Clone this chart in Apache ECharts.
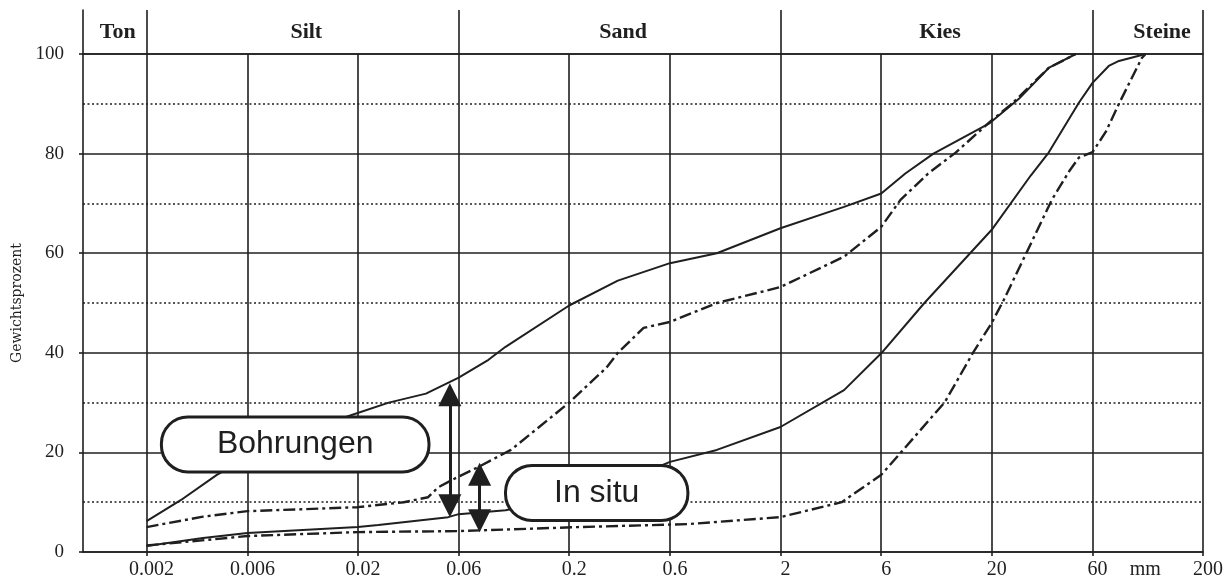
<!DOCTYPE html>
<html><head><meta charset="utf-8">
<script src="https://cdn.jsdelivr.net/npm/echarts@6/dist/echarts.min.js"></script>
<style>html,body{margin:0;padding:0;background:#fff}#c{width:1232px;height:585px}</style>
</head><body><div id="c"></div>
<script>
// ---- data ----
const xTicks = [0.002, 0.006, 0.02, 0.06, 0.2, 0.6, 2, 6, 20, 60, 200];
const xTickLabels = ['0.002', '0.006', '0.02', '0.06', '0.2', '0.6', '2', '6', '20', '60', '200'];
const unitLabel = 'mm';
const unitLabelAt = 101;
const fractions = ['Ton', 'Silt', 'Sand', 'Kies', 'Steine'];
const fractionBounds = [0.002, 0.06, 2, 60, 200];
const fractionLabelAt = [0.00146, 0.0114, 0.36, 11.4, 128];

const bohrFine = [[0.002,6.2],[0.0029,10.4],[0.0043,15.5],[0.006,19],[0.01,23.5],[0.0187,27.5],[0.028,30],[0.042,31.8],[0.06,35],[0.083,38.6],[0.1,41.2],[0.2,49.5],[0.34,54.5],[0.6,58],[1,60],[2,65],[4,69.3],[6,72],[7.8,76],[10.6,80],[19.4,86],[26.9,91],[37.2,97.2],[50,100]];
const bohrCoarse = [[0.002,1.2],[0.0037,2.8],[0.006,3.8],[0.02,5.0],[0.025,5.4],[0.0535,7.0],[0.06,7.6],[0.1,8.4],[0.2,11],[0.4,15],[0.6,18.1],[1,20.5],[2,25.1],[4,32.5],[6,39.9],[9.6,50],[20,64.7],[30.6,75.6],[37.2,80.2],[51.7,90.2],[60,94.2],[71.6,97.6],[80,98.6],[107,100]];
const insituFine = [[0.002,5.0],[0.0037,7.1],[0.006,8.2],[0.0112,8.6],[0.02,9.0],[0.033,10],[0.043,11],[0.048,13],[0.056,14.5],[0.0745,17.1],[0.106,20.5],[0.2,30],[0.3,37],[0.34,40],[0.45,45],[0.6,46.2],[1,50],[2,53.2],[4,59.3],[6,65.3],[7.4,70.7],[10,76],[13.5,80.2],[19.4,86.2],[24.9,90],[37.2,97.2],[50,100]];
const insituCoarse = [[0.002,1.3],[0.006,3.2],[0.02,4.0],[0.06,4.2],[0.22,5.0],[0.73,5.6],[2,7.0],[3.9,10],[6,15.5],[7.4,19.9],[12,30.1],[16.3,40],[20,46],[22.8,50.6],[29.6,60.6],[38.5,70.7],[46.6,76.5],[51.7,79.2],[60,80.3],[69.4,84.4],[80,90],[102.7,99.2],[107,100]];

// annotations (data coordinates)
const callouts = [
  {name: 'Bohrungen', at: [0.0101, 21.6], padH: 54},
  {name: 'In situ', at: [0.27, 11.85], padH: 47}
];
const rangeArrows = [
  {x: 0.0545, from: 31.6, to: 9.3},
  {x: 0.0754, from: 15.6, to: 6.3}
];

// ---- chart ----
const INK = '#1f1f1f';
const SERIF = '"Liberation Serif","Times New Roman",serif';
const SANS = '"Liberation Sans",Arial,sans-serif';

function tickLabel(v) {
  if (Math.abs(v - unitLabelAt) < 1e-6 * unitLabelAt) return unitLabel;
  for (let i = 0; i < xTicks.length; i++) {
    if (Math.abs(v - xTicks[i]) < 1e-6 * xTicks[i]) return xTickLabels[i];
  }
  return '';
}

const chart = echarts.init(document.getElementById('c'), null, {renderer: 'canvas'});
const gridLine = {color: INK, width: 1.6};
const solidCurve = {color: INK, width: 2};
const dashDot = {color: INK, width: 2.4, type: [12, 4, 3, 4]};

chart.setOption({
  animation: false,
  backgroundColor: '#fff',
  grid: [
    {left: 83, right: 29, top: 54, bottom: 33},
    {left: 83, right: 29, top: 10, height: 44}
  ],
  xAxis: [
    {
      type: 'log', gridIndex: 0, min: 0.001, max: 200,
      axisLine: {show: true, lineStyle: gridLine},
      axisTick: {show: true, customValues: xTicks, length: 4, lineStyle: gridLine},
      axisLabel: {customValues: xTicks.concat([unitLabelAt]), formatter: tickLabel,
        fontFamily: SERIF, fontSize: 20, color: INK, margin: 8, padding: [0, 0, 0, 10]},
      splitLine: {show: false}, minorTick: {show: false}, minorSplitLine: {show: false}
    },
    {
      type: 'log', gridIndex: 1, min: 0.001, max: 200, position: 'top',
      axisLine: {show: true, lineStyle: gridLine},
      axisTick: {show: false}, axisLabel: {show: false}, splitLine: {show: false}
    }
  ],
  yAxis: [
    {
      type: 'value', gridIndex: 0, min: 0, max: 100, interval: 20,
      axisLine: {show: true, lineStyle: gridLine},
      axisTick: {show: true, length: 4, lineStyle: gridLine},
      axisLabel: {fontFamily: SERIF, fontSize: 19, color: INK, margin: 19},
      splitLine: {show: true, lineStyle: gridLine},
      minorTick: {show: false, splitNumber: 2},
      minorSplitLine: {show: true, lineStyle: {color: INK, width: 1.6, type: [2, 2.5]}},
      name: 'Gewichtsprozent', nameLocation: 'middle', nameGap: 58,
      nameTextStyle: {fontFamily: '"DejaVu Serif",serif', fontSize: 14, color: INK}
    },
    {
      type: 'value', gridIndex: 1, min: 0, max: 1,
      axisLine: {show: true, lineStyle: gridLine},
      axisTick: {show: false}, axisLabel: {show: false}, splitLine: {show: false}
    }
  ],
  series: [
    {
      name: 'grid-verticals', type: 'line', xAxisIndex: 0, yAxisIndex: 0, data: [],
      markLine: {silent: true, symbol: 'none', z: 1, precision: 10, label: {show: false},
        lineStyle: {color: INK, width: 1.6, type: 'solid'},
        emphasis: {disabled: true},
        data: xTicks.map(v => ({xAxis: v}))}
    },
    {
      name: 'header', type: 'line', xAxisIndex: 1, yAxisIndex: 1, data: [],
      markLine: {silent: true, symbol: 'none', z: 1, precision: 10, label: {show: false},
        lineStyle: {color: INK, width: 1.6, type: 'solid'},
        emphasis: {disabled: true},
        data: fractionBounds.map(v => ({xAxis: v}))},
      markPoint: {silent: true, z: 5, symbol: 'rect', symbolSize: 1, precision: 10,
        itemStyle: {color: 'rgba(0,0,0,0)'},
        data: fractions.map((f, i) => ({name: f, coord: [fractionLabelAt[i], 0.5]})),
        label: {show: true, position: 'inside', formatter: '{b}',
          fontFamily: SERIF, fontWeight: 'bold', fontSize: 22, color: INK}}
    },
    {name: 'Bohrungen fein', type: 'line', data: bohrFine, symbol: 'none', lineStyle: solidCurve, z: 3},
    {name: 'Bohrungen grob', type: 'line', data: bohrCoarse, symbol: 'none', lineStyle: solidCurve, z: 3},
    {name: 'In situ fein', type: 'line', data: insituFine, symbol: 'none', lineStyle: dashDot, z: 3},
    {name: 'In situ grob', type: 'line', data: insituCoarse, symbol: 'none', lineStyle: dashDot, z: 3},
    {
      name: 'annotations', type: 'line', data: [], z: 10,
      markLine: {silent: true, z: 20, precision: 10, symbol: ['triangle', 'triangle'], symbolSize: 23,
        label: {show: false}, emphasis: {disabled: true},
        lineStyle: {color: INK, width: 3, type: 'solid'},
        itemStyle: {color: INK},
        data: rangeArrows.map(a => [{coord: [a.x, a.from]}, {coord: [a.x, a.to]}])},
      markPoint: {silent: true, z: 20, symbol: 'rect', symbolSize: 1, precision: 10,
        itemStyle: {color: 'rgba(0,0,0,0)'},
        data: callouts.map(c => ({name: c.name, coord: c.at,
          label: {padding: [9, c.padH]}})),
        label: {show: true, position: 'inside', formatter: '{b}',
          fontFamily: SANS, fontSize: 32, lineHeight: 34, color: INK,
          backgroundColor: '#fff', borderColor: INK, borderWidth: 3, borderRadius: 25}}
    }
  ]
});
</script></body></html>
